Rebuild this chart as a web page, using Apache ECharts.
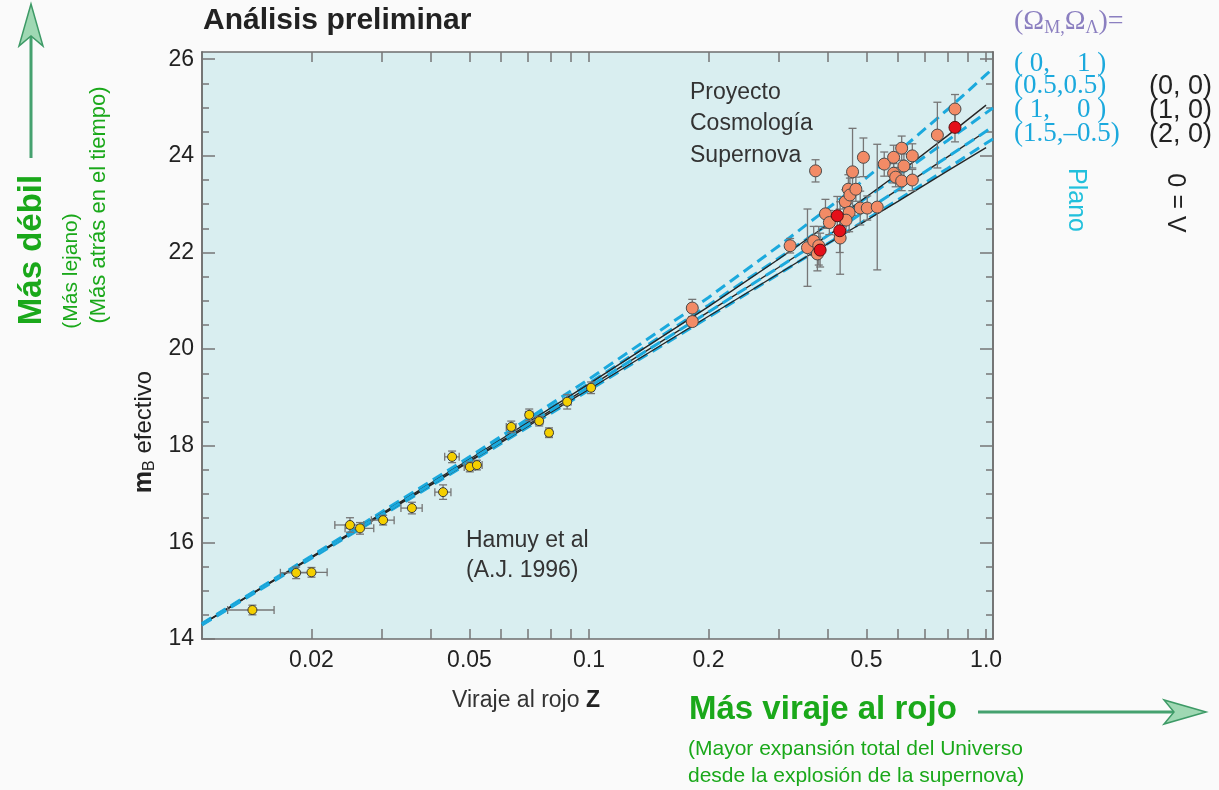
<!DOCTYPE html>
<html>
<head>
<meta charset="utf-8">
<title>Análisis preliminar</title>
<script src="https://cdn.jsdelivr.net/npm/echarts@6/dist/echarts.min.js"></script>
<style>
  html, body { margin: 0; padding: 0; background: #fafafa; }
  #chart { width: 1219px; height: 790px; }
</style>
</head>
<body>
<div id="chart"></div>
<script>
// Calán/Tololo nearby supernovae (Hamuy et al 1996): redshift, magnitude and errors
const zCalan    = [0.0142, 0.0183, 0.0200, 0.0250, 0.0265, 0.0303, 0.0358, 0.0429, 0.0452, 0.0501, 0.0522, 0.0637, 0.0707, 0.0749, 0.0793, 0.0881, 0.1012];
const mCalan    = [14.60, 15.37, 15.38, 16.36, 16.29, 16.46, 16.71, 17.04, 17.77, 17.56, 17.60, 18.39, 18.64, 18.51, 18.27, 18.91, 19.20];
const zErrCalan = [0.0019, 0.0016, 0.0019, 0.0021, 0.0022, 0.0020, 0.0022, 0.0020, 0.0019, 0.0016, 0.0016, 0.0018, 0.0015, 0.0016, 0.0015, 0.0020, 0.0015];
const mErrCalan = [0.10, 0.12, 0.10, 0.15, 0.12, 0.10, 0.12, 0.15, 0.12, 0.10, 0.10, 0.12, 0.12, 0.10, 0.10, 0.15, 0.12];

// Supernova Cosmology Project, distant supernovae
const zScp    = [0.182, 0.182, 0.321, 0.355, 0.372, 0.368, 0.376, 0.379, 0.394, 0.403, 0.429, 0.442, 0.450, 0.454, 0.452, 0.444, 0.461, 0.470, 0.482, 0.502, 0.532, 0.491, 0.554, 0.585, 0.621, 0.585, 0.592, 0.613, 0.652, 0.613, 0.652, 0.754, 0.835];
const mScp    = [20.85, 20.57, 22.14, 22.10, 23.69, 22.24, 21.97, 22.14, 22.80, 22.62, 22.30, 23.05, 23.31, 23.19, 22.83, 22.67, 23.67, 23.31, 22.92, 22.92, 22.94, 23.97, 23.83, 23.97, 23.79, 23.64, 23.56, 23.48, 23.50, 24.16, 24.00, 24.43, 24.97];
const mErrScp = [0.18, 0.10, 0.15, 0.80, 0.23, 0.30, 0.35, 0.40, 0.30, 0.25, 0.75, 0.25, 0.30, 0.35, 0.40, 0.25, 0.90, 0.25, 0.35, 0.25, 1.30, 0.40, 0.25, 0.25, 0.25, 0.20, 0.20, 0.20, 0.22, 0.25, 0.25, 0.68, 0.30];

// highlighted supernovae (red)
const zRed    = [0.382, 0.422, 0.428, 0.835];
const mRed    = [22.05, 22.76, 22.45, 24.59];
const mErrRed = [0.35, 0.40, 0.45, 0.30];

// model curves, sampled in redshift
const zModel        = [0.0106, 0.02, 0.05, 0.1, 0.2, 0.3, 0.45, 0.6, 0.8, 1.0, 1.041];
const mFlat_0_1     = [14.32, 15.72, 17.77, 19.38, 21.07, 22.13, 23.24, 24.08, 24.96, 25.68, 25.81];
const mFlat_05_05   = [14.31, 15.70, 17.73, 19.29, 20.91, 21.88, 22.87, 23.59, 24.32, 24.89, 24.99];
const mModel_1_0    = [14.30, 15.69, 17.69, 19.22, 20.77, 21.69, 22.63, 23.30, 23.98, 24.51, 24.61];
const mFlat_15_m05  = [14.29, 15.67, 17.65, 19.15, 20.66, 21.55, 22.45, 23.09, 23.74, 24.26, 24.35];
const mOpen_0_0     = [14.31, 15.70, 17.72, 19.28, 20.88, 21.86, 22.88, 23.63, 24.42, 25.05];
const mClosed_2_0   = [14.30, 15.68, 17.67, 19.17, 20.68, 21.56, 22.44, 23.06, 23.69, 24.17];

// axes
const zMin = 0.0106, zMax = 1.041;
const magMin = 14, magMax = 26.15;
const xTickValues  = [0.02, 0.03, 0.04, 0.05, 0.06, 0.07, 0.08, 0.09, 0.1, 0.2, 0.3, 0.4, 0.5, 0.6, 0.7, 0.8, 0.9, 1.0];
const xLabelValues = [0.02, 0.05, 0.1, 0.2, 0.5, 1.0];
const xLabelText   = ['0.02', '0.05', '0.1', '0.2', '0.5', '1.0'];
const yLabelValues = [14, 16, 18, 20, 22, 24, 26];
const yMinorTicks  = [14.5, 15, 15.5, 16.5, 17, 17.5, 18.5, 19, 19.5, 20.5, 21, 21.5, 22.5, 23, 23.5, 24.5, 25, 25.5];

const lg = Math.log10;
const SANS = "'Liberation Sans', Arial, Helvetica, sans-serif";
const SERIF = "'Liberation Serif', 'DejaVu Serif', 'Times New Roman', serif";
const GREEN = '#1aa81a';
const CYAN = '#1ba9dd';

function pts(zs, ms) { return zs.map((z, i) => [lg(z), ms[i]]); }
function errRows(zs, ms, dms, dzs) {
  return zs.map((z, i) => {
    const dz = dzs ? dzs[i] : 0;
    return [lg(z), ms[i], lg(z - dz), lg(z + dz), ms[i] - dms[i], ms[i] + dms[i]];
  });
}

// vertical (and optional horizontal) error bar with end caps
function renderErrorBar(params, api) {
  const x = api.value(0), y = api.value(1);
  const lo = api.coord([x, api.value(4)]);
  const hi = api.coord([x, api.value(5)]);
  const st = { stroke: '#767676', lineWidth: 1.3 };
  const cap = 4;
  const children = [
    { type: 'line', shape: { x1: lo[0], y1: lo[1], x2: hi[0], y2: hi[1] }, style: st },
    { type: 'line', shape: { x1: lo[0] - cap, y1: lo[1], x2: lo[0] + cap, y2: lo[1] }, style: st },
    { type: 'line', shape: { x1: hi[0] - cap, y1: hi[1], x2: hi[0] + cap, y2: hi[1] }, style: st }
  ];
  if (api.value(2) !== api.value(3)) {
    const l = api.coord([api.value(2), y]);
    const r = api.coord([api.value(3), y]);
    children.push(
      { type: 'line', shape: { x1: l[0], y1: l[1], x2: r[0], y2: r[1] }, style: st },
      { type: 'line', shape: { x1: l[0], y1: l[1] - cap, x2: l[0], y2: l[1] + cap }, style: st },
      { type: 'line', shape: { x1: r[0], y1: r[1] - cap, x2: r[0], y2: r[1] + cap }, style: st }
    );
  }
  return { type: 'group', children: children };
}

function xLabelFormatter(v) {
  let best = 0;
  xLabelValues.forEach((t, i) => {
    if (Math.abs(lg(t) - v) < Math.abs(lg(xLabelValues[best]) - v)) best = i;
  });
  return xLabelText[best];
}

const axisLine = { show: true, onZero: false, lineStyle: { color: '#6e6e6e', width: 1.5 } };
const tickStyle = { color: '#767676', width: 1.5 };

function xAxisDef(position, withLabels) {
  return {
    type: 'value', position: position, min: lg(zMin), max: lg(zMax),
    axisLine: axisLine, splitLine: { show: false },
    axisTick: { show: true, inside: true, length: 10, customValues: xTickValues.map(lg), lineStyle: tickStyle },
    axisLabel: withLabels ? {
      show: true, customValues: xLabelValues.map(lg), formatter: xLabelFormatter,
      fontSize: 23, fontFamily: SANS, color: '#222', margin: 10
    } : { show: false }
  };
}
function yAxisDef(position, ticks, len, withLabels) {
  return {
    type: 'value', position: position, min: magMin, max: magMax,
    axisLine: axisLine, splitLine: { show: false },
    axisTick: { show: true, inside: true, length: len, customValues: ticks, lineStyle: tickStyle },
    axisLabel: withLabels ? {
      show: true, customValues: yLabelValues, fontSize: 23, fontFamily: SANS, color: '#222', margin: 8
    } : { show: false }
  };
}

const lineBase = { type: 'line', xAxisIndex: 0, yAxisIndex: 0, symbol: 'none', silent: true, clip: true };
const cyanLine = { color: CYAN, width: 3, type: [11, 6] };
const blackLine = { color: '#262626', width: 1.4 };

const option = {
  animation: false,
  backgroundColor: '#fafafa',
  grid: { left: 202, right: 226, top: 52, bottom: 151, show: true, backgroundColor: '#d9eef0', borderWidth: 0 },
  xAxis: [xAxisDef('bottom', true), xAxisDef('top', false)],
  yAxis: [
    yAxisDef('left', yLabelValues, 13, true),
    yAxisDef('left', yMinorTicks, 7, false),
    yAxisDef('right', yLabelValues, 13, false),
    yAxisDef('right', yMinorTicks, 7, false)
  ],
  series: [
    Object.assign({}, lineBase, { name: '(0, 1)', data: pts(zModel, mFlat_0_1), lineStyle: cyanLine, z: 2 }),
    Object.assign({}, lineBase, { name: '(0.5, 0.5)', data: pts(zModel, mFlat_05_05), lineStyle: cyanLine, z: 2 }),
    Object.assign({}, lineBase, { name: '(1.5, -0.5)', data: pts(zModel, mFlat_15_m05), lineStyle: cyanLine, z: 2 }),
    Object.assign({}, lineBase, { name: '(0, 0)', data: pts(zModel.slice(0, mOpen_0_0.length), mOpen_0_0), lineStyle: blackLine, z: 3 }),
    Object.assign({}, lineBase, { name: '(1, 0)', data: pts(zModel.slice(0, 10), mModel_1_0.slice(0, 10)), lineStyle: blackLine, z: 3 }),
    Object.assign({}, lineBase, { name: '(2, 0)', data: pts(zModel.slice(0, mClosed_2_0.length), mClosed_2_0), lineStyle: blackLine, z: 3 }),
    Object.assign({}, lineBase, { name: '(1, 0) plano', data: pts(zModel, mModel_1_0), lineStyle: cyanLine, z: 3 }),
    {
      type: 'custom', name: 'err-calan', xAxisIndex: 0, yAxisIndex: 0, silent: true, z: 4,
      renderItem: renderErrorBar, encode: { x: 0, y: 1 },
      data: errRows(zCalan, mCalan, mErrCalan, zErrCalan)
    },
    {
      type: 'custom', name: 'err-scp', xAxisIndex: 0, yAxisIndex: 0, silent: true, z: 4,
      renderItem: renderErrorBar, encode: { x: 0, y: 1 },
      data: errRows(zScp, mScp, mErrScp, null).concat(errRows(zRed, mRed, mErrRed, null))
    },
    {
      type: 'scatter', name: 'Calán/Tololo', xAxisIndex: 0, yAxisIndex: 0, silent: true, z: 5,
      symbol: 'circle', symbolSize: 9, data: pts(zCalan, mCalan),
      itemStyle: { color: '#f4cf00', borderColor: '#3a3a3a', borderWidth: 1, opacity: 1 }
    },
    {
      type: 'scatter', name: 'SCP', xAxisIndex: 0, yAxisIndex: 0, silent: true, z: 5,
      symbol: 'circle', symbolSize: 12, data: pts(zScp, mScp),
      itemStyle: { color: '#f28b66', borderColor: '#4a4a4a', borderWidth: 1, opacity: 1 }
    },
    {
      type: 'scatter', name: 'SCP rojo', xAxisIndex: 0, yAxisIndex: 0, silent: true, z: 6,
      symbol: 'circle', symbolSize: 12, data: pts(zRed, mRed),
      itemStyle: { color: '#e4101a', borderColor: '#5a1010', borderWidth: 1, opacity: 1 }
    }
  ],
  graphic: [
    // title
    { type: 'text', x: 203, y: 21, style: { text: 'Análisis preliminar', font: 'bold 30px ' + SANS, fill: '#222', align: 'left', verticalAlign: 'middle' } },
    // axis names
    { type: 'text', x: 526, y: 701, style: {
        text: '{n|Viraje al rojo }{b|Z}', align: 'center', verticalAlign: 'middle',
        rich: { n: { fontSize: 23, fontFamily: SANS, fill: '#333' }, b: { fontSize: 23, fontWeight: 'bold', fontFamily: SANS, fill: '#222' } }
      } },
    { type: 'text', x: 144, y: 432, rotation: Math.PI / 2, style: {
        text: '{m|m}{s|B}{e| efectivo}', align: 'center', verticalAlign: 'middle',
        rich: {
          m: { fontSize: 25, fontWeight: 'bold', fontFamily: SANS, fill: '#222', lineHeight: 28, verticalAlign: 'middle' },
          s: { fontSize: 16, fontFamily: SANS, fill: '#222', lineHeight: 16, verticalAlign: 'bottom' },
          e: { fontSize: 24, fontFamily: SANS, fill: '#222', lineHeight: 28, verticalAlign: 'middle' }
        }
      } },
    // annotations inside the plot
    { type: 'text', x: 690, y: 124, style: { text: 'Proyecto\nCosmología\nSupernova', font: '23px ' + SANS, fill: '#333', lineHeight: 31.5, align: 'left', verticalAlign: 'middle' } },
    { type: 'text', x: 466, y: 556, style: { text: 'Hamuy et al\n(A.J. 1996)', font: '23px ' + SANS, fill: '#333', lineHeight: 30, align: 'left', verticalAlign: 'middle' } },
    // model key on the right
    { type: 'text', x: 1014, y: 22, style: {
        text: '{a|(\u03A9}{s|M,}{a|\u03A9}{s|\u039B}{a|)=}', align: 'left', verticalAlign: 'middle',
        rich: {
          a: { fontSize: 28, fontFamily: SERIF, fill: '#8b7fc0', lineHeight: 30, verticalAlign: 'middle' },
          s: { fontSize: 18, fontFamily: SERIF, fill: '#8b7fc0', lineHeight: 18, verticalAlign: 'bottom' }
        }
      } },
    { type: 'text', x: 1014, y: 64, style: { text: '( 0,\u00a0\u00a0\u00a0\u00a01 )', font: '27px ' + SERIF, fill: CYAN, align: 'left', verticalAlign: 'middle' } },
    { type: 'text', x: 1014, y: 86, style: { text: '(0.5,0.5)', font: '27px ' + SERIF, fill: CYAN, align: 'left', verticalAlign: 'middle' } },
    { type: 'text', x: 1014, y: 110, style: { text: '( 1,\u00a0\u00a0\u00a0\u00a00 )', font: '27px ' + SERIF, fill: CYAN, align: 'left', verticalAlign: 'middle' } },
    { type: 'text', x: 1014, y: 134, style: { text: '(1.5,\u20130.5)', font: '27px ' + SERIF, fill: CYAN, align: 'left', verticalAlign: 'middle' } },
    { type: 'text', x: 1149, y: 87, style: { text: '(0, 0)', font: '27px ' + SANS, fill: '#222', align: 'left', verticalAlign: 'middle' } },
    { type: 'text', x: 1149, y: 111, style: { text: '(1, 0)', font: '27px ' + SANS, fill: '#222', align: 'left', verticalAlign: 'middle' } },
    { type: 'text', x: 1149, y: 135, style: { text: '(2, 0)', font: '27px ' + SANS, fill: '#222', align: 'left', verticalAlign: 'middle' } },
    { type: 'text', x: 1076, y: 200, rotation: -Math.PI / 2, style: { text: 'Plano', font: '25px ' + SANS, fill: '#22c0dc', align: 'center', verticalAlign: 'middle' } },
    { type: 'text', x: 1179, y: 203, rotation: Math.PI / 2, style: { text: '\u039B = 0', font: '25px ' + SANS, fill: '#222', align: 'center', verticalAlign: 'middle' } },
    // vertical green note and arrow
    { type: 'line', shape: { x1: 31, y1: 158, x2: 31, y2: 14 }, style: { stroke: '#45a16f', lineWidth: 3 } },
    { type: 'polygon', shape: { points: [[31, 4], [19, 46], [31, 36], [43, 46]] }, style: { fill: '#9fd8b3', stroke: '#3d9a66', lineWidth: 1.5 } },
    { type: 'text', x: 32, y: 250, rotation: Math.PI / 2, style: { text: 'Más débil', font: 'bold 33px ' + SANS, fill: GREEN, align: 'center', verticalAlign: 'middle' } },
    { type: 'text', x: 71, y: 271, rotation: Math.PI / 2, style: { text: '(Más lejano)', font: '21px ' + SANS, fill: GREEN, align: 'center', verticalAlign: 'middle' } },
    { type: 'text', x: 99, y: 205, rotation: Math.PI / 2, style: { text: '(Más atrás en el tiempo)', font: '22px ' + SANS, fill: GREEN, align: 'center', verticalAlign: 'middle' } },
    // horizontal green note and arrow
    { type: 'text', x: 689, y: 710, style: { text: 'Más viraje al rojo', font: 'bold 33px ' + SANS, fill: GREEN, align: 'left', verticalAlign: 'middle' } },
    { type: 'line', shape: { x1: 978, y1: 712, x2: 1196, y2: 712 }, style: { stroke: '#45a16f', lineWidth: 3 } },
    { type: 'polygon', shape: { points: [[1206, 712], [1164, 700], [1174, 712], [1164, 724]] }, style: { fill: '#9fd8b3', stroke: '#3d9a66', lineWidth: 1.5 } },
    { type: 'text', x: 688, y: 763, style: { text: '(Mayor expansión total del Universo\ndesde la explosión de la supernova)', font: '21px ' + SANS, fill: GREEN, lineHeight: 27, align: 'left', verticalAlign: 'middle' } }
  ]
};

const chart = echarts.init(document.getElementById('chart'), null, { renderer: 'canvas' });
chart.setOption(option);
</script>
</body>
</html>
